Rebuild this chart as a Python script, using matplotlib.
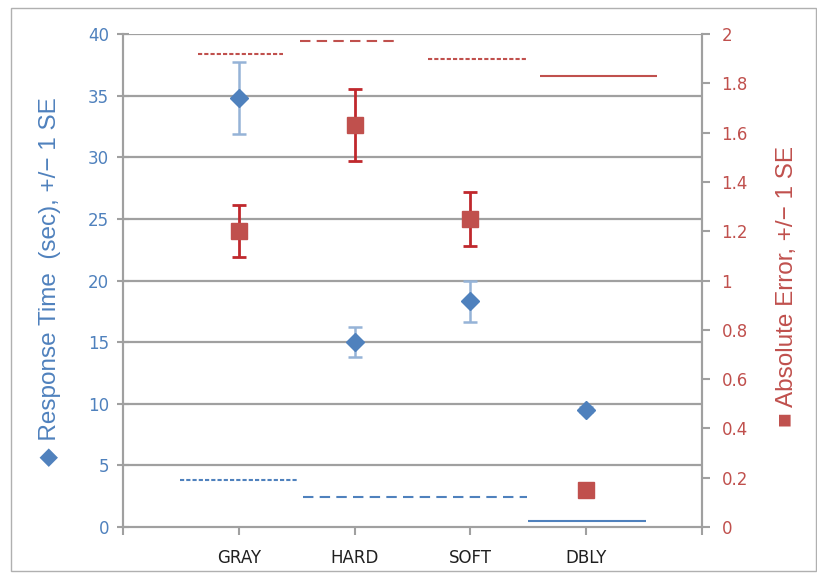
import matplotlib.pyplot as plt
from matplotlib.patches import Rectangle

# categories and positions on the x axis
categories = ["GRAY", "HARD", "SOFT", "DBLY"]
xpos = [1, 2, 3, 4]

# response time (left axis) with +/- 1 SE
rt_mean = [34.8, 15.0, 18.3, 9.5]
rt_se = [2.9, 1.2, 1.7, 0.2]

# absolute error (right axis) with +/- 1 SE
ae_mean = [1.20, 1.63, 1.25, 0.15]
ae_se = [0.105, 0.145, 0.11, 0.02]

# reference lines: red ones on right axis, blue ones on left axis
red_lines_y = [1.92, 1.97, 1.90, 1.83]
red_lines_x0 = [0.65, 1.53, 2.63, 3.60]
red_lines_x1 = [1.38, 2.39, 3.48, 4.61]
red_styles = [(0, (2, 1)), (0, (5, 3)), (0, (2, 1)), "-"]

blue_lines_y = [3.8, 2.45, 0.5]
blue_lines_x0 = [0.49, 1.55, 3.50]
blue_lines_x1 = [1.51, 3.49, 4.52]
blue_styles = [(0, (2, 1)), (0, (5, 3)), "-"]

blue = "#4F81BD"
blue_err = "#95B3D7"
red = "#C0504D"
red_err = "#C0282D"
grid = "#A0A0A0"

fig = plt.figure(figsize=(8.17, 5.78), dpi=100)
fig.patches.append(Rectangle((0.014, 0.012), 0.985, 0.975, transform=fig.transFigure,
                             fill=False, edgecolor="#B0B0B0", linewidth=1))

ax = fig.add_axes([0.1506, 0.0882, 0.7086, 0.853])
ax2 = ax.twinx()

ax.set_xlim(0, 5)
ax.set_ylim(0, 40)
ax2.set_ylim(0, 2)

ax.set_yticks(range(0, 41, 5))
ax2.set_yticks([0, 0.2, 0.4, 0.6, 0.8, 1, 1.2, 1.4, 1.6, 1.8, 2])
ax2.set_yticklabels(["0", "0.2", "0.4", "0.6", "0.8", "1", "1.2", "1.4", "1.6", "1.8", "2"])
ax.set_xticks([0, 1, 2, 3, 4, 5])
ax.set_xticklabels([""] + categories + [""])

for y in range(5, 41, 5):
    ax.axhline(y, color=grid, linewidth=1.6, zorder=0)

for a in (ax, ax2):
    for s in a.spines.values():
        s.set_color(grid)
        s.set_linewidth(1.5)
    a.spines["top"].set_visible(False)

ax.tick_params(axis="y", colors=grid, labelcolor=blue, labelsize=12, direction="inout",
               length=8, width=1.5, pad=6)
ax.tick_params(axis="x", colors=grid, labelcolor="#202020", labelsize=12, direction="out",
               length=6, width=1.5, pad=10)
ax2.tick_params(axis="y", colors=grid, labelcolor=red, labelsize=12, direction="out",
                length=6, width=1.5, pad=8)

# blue series
ax.errorbar(xpos, rt_mean, yerr=rt_se, fmt="none", ecolor=blue_err, elinewidth=1.8,
            capsize=5, capthick=1.8, zorder=3)
ax.plot(xpos, rt_mean, linestyle="none", marker="D", markersize=9, color=blue, zorder=4)
for y, x0, x1, ls in zip(blue_lines_y, blue_lines_x0, blue_lines_x1, blue_styles):
    ax.hlines(y, x0, x1, colors=blue, linestyles=ls, linewidth=1.5, zorder=3)

# red series
ax2.errorbar(xpos, ae_mean, yerr=ae_se, fmt="none", ecolor=red_err, elinewidth=2,
             capsize=5, capthick=2, zorder=3)
ax2.plot(xpos, ae_mean, linestyle="none", marker="s", markersize=12, color=red, zorder=4)
for y, x0, x1, ls in zip(red_lines_y, red_lines_x0, red_lines_x1, red_styles):
    ax2.hlines(y, x0, x1, colors=red, linestyles=ls, linewidth=1.5, zorder=3)

label_font = ["Liberation Sans", "DejaVu Sans"]
ax.set_ylabel("\u25c6 Response Time  (sec), +/\u2212 1 SE", color=blue, fontsize=17.5,
              family=label_font)
ax2.set_ylabel("\u25a0 Absolute Error, +/\u2212 1 SE", color=red, fontsize=17.5,
               rotation=90, family=label_font)
ax.yaxis.set_label_coords(-0.108, 0.497)
ax2.yaxis.set_label_coords(1.128, 0.487)

fig.savefig("out.png", dpi=100)
